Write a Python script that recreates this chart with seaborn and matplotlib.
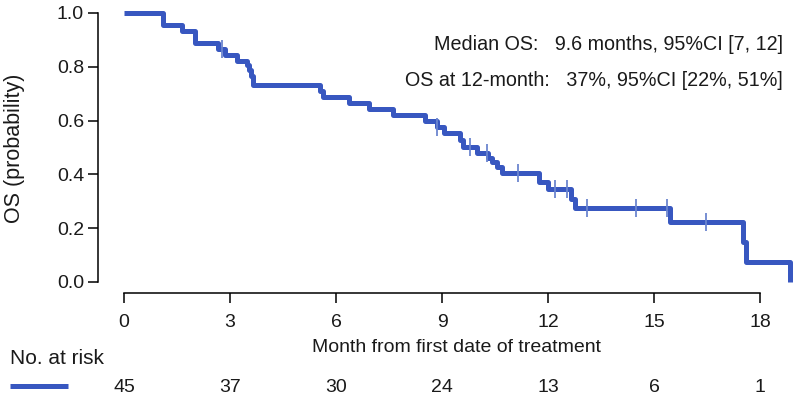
import matplotlib
matplotlib.use("Agg")
import matplotlib.pyplot as plt
from matplotlib.lines import Line2D
import matplotlib.transforms as mtransforms
import seaborn as sns
import pandas as pd

# ---- data ----
step_times = [0, 1.11, 1.63, 2.0, 2.65, 2.85, 3.19, 3.47, 3.55, 3.6, 3.64, 5.55, 5.63, 6.36,
              6.94, 7.62, 8.52, 8.85, 9.05, 9.51, 9.58, 10.0, 10.3, 10.4, 10.55, 10.69, 11.73,
              12.0, 12.64, 12.77, 15.45, 17.53, 17.6, 18.85]
step_surv = [1.0, 0.956, 0.933, 0.889, 0.867, 0.845, 0.823, 0.805, 0.787, 0.767, 0.733, 0.711,
             0.689, 0.666, 0.644, 0.622, 0.598, 0.577, 0.553, 0.528, 0.503, 0.478, 0.462, 0.447,
             0.428, 0.404, 0.373, 0.344, 0.307, 0.274, 0.224, 0.15, 0.075, 0.0]
censor_times = [2.78, 8.85, 9.79, 10.26, 11.16, 12.2, 12.55, 13.1, 14.5, 15.36, 16.47]
censor_surv = [0.867, 0.577, 0.503, 0.478, 0.404, 0.344, 0.344, 0.274, 0.274, 0.274, 0.224]
risk_times = [0, 3, 6, 9, 12, 15, 18]
risk_counts = [45, 37, 30, 24, 13, 6, 1]
y_ticks = [0.0, 0.2, 0.4, 0.6, 0.8, 1.0]
median_text = "Median OS:   9.6 months, 95%CI [7, 12]"
os12_text = "OS at 12-month:   37%, 95%CI [22%, 51%]"

sns.set_theme(style="white")
plt.rcParams["font.family"] = ["Liberation Sans", "DejaVu Sans"]

BLUE = "#3857C0"
CENS = "#6C86CF"
TXT = "#1a1a1a"

fig = plt.figure(figsize=(8, 4), dpi=100)
ax = fig.add_axes([98 / 800, 1 - 293 / 400, 702 / 800, 290 / 400])

curve = pd.DataFrame({"t": step_times, "s": step_surv})
cens = pd.DataFrame({"t": censor_times, "s": censor_surv})

sns.lineplot(data=curve, x="t", y="s", ax=ax, drawstyle="steps-post", estimator=None,
             sort=False, color=BLUE, linewidth=3.6, solid_capstyle="butt")
sns.scatterplot(data=cens, x="t", y="s", ax=ax, marker="|", s=170, linewidth=1.3,
                color=CENS, zorder=3)

ax.set_xlim(-0.736, 19.13)
ax.set_ylim(-0.0409, 1.037)
ax.set_xticks(risk_times)
ax.set_yticks(y_ticks)
ax.set_yticklabels([f"{v:.1f}" for v in y_ticks])
ax.set_xlabel("")
ax.set_ylabel("")

for side in ["top", "right"]:
    ax.spines[side].set_visible(False)
for side in ["left", "bottom"]:
    ax.spines[side].set_color("black")
    ax.spines[side].set_linewidth(1.1)
ax.spines["left"].set_bounds(0, 1)
ax.spines["bottom"].set_bounds(0, 18)
ax.tick_params(axis="both", which="major", direction="out", length=7, width=1.1,
               color="black", labelsize=14, labelcolor=TXT, left=True, bottom=True)
ax.tick_params(axis="x", pad=8)
ax.tick_params(axis="y", pad=3)
ax.grid(False)

fig.text(15 / 800, 1 - 148 / 400, "OS (probability)", rotation=90, ha="center", va="center",
         fontsize=15.5, color=TXT)
fig.text(457 / 800, 1 - 347 / 400, "Month from first date of treatment", ha="center",
         va="center", fontsize=14, color=TXT)

fig.text(783 / 800, 1 - 44 / 400, median_text, ha="right", va="center", fontsize=14.2,
         color=TXT)
fig.text(783 / 800, 1 - 80 / 400, os12_text, ha="right", va="center", fontsize=14.2,
         color=TXT)

fig.text(10 / 800, 1 - 358 / 400, "No. at risk", ha="left", va="center", fontsize=15,
         color=TXT)
fig.add_artist(Line2D([10 / 800, 68 / 800], [1 - 386 / 400, 1 - 386 / 400],
                      transform=fig.transFigure, color=BLUE, linewidth=3.6,
                      solid_capstyle="butt"))
trans = mtransforms.blended_transform_factory(ax.transData, fig.transFigure)
for t, n in zip(risk_times, risk_counts):
    ax.text(t, 1 - 387 / 400, str(n), transform=trans, ha="center", va="center",
            fontsize=14, color=TXT, clip_on=False)

fig.savefig("out.png", dpi=100)
